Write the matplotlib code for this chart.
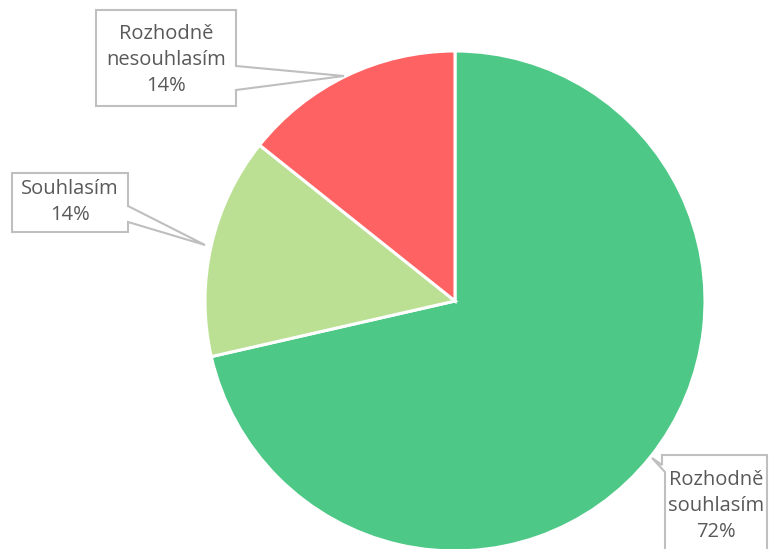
import matplotlib.pyplot as plt
from matplotlib.patches import Polygon

# data (share of answers, labels as shown in the chart)
labels = ['Rozhodně\nsouhlasím', 'Souhlasím', 'Rozhodně\nnesouhlasím']
values = [5, 1, 1]
pct = ['72%', '14%', '14%']
colors = ['#4ec886', '#bbe094', '#ff6262']

W, H = 769, 549
fig = plt.figure(figsize=(W / 100, H / 100), dpi=100)
ax = fig.add_axes([0, 0, 1, 1])

# pie drawn in pixel coords (y flipped -> counterclock=True looks clockwise)
cx, cy, r = 455, 301, 250
ax.pie(values, colors=colors, startangle=-90, counterclock=True,
       center=(cx, cy), radius=r, frame=True,
       wedgeprops=dict(edgecolor='white', linewidth=2.2))
ax.set_xlim(0, W)
ax.set_ylim(H, 0)
ax.set_aspect('equal')
ax.axis('off')

# callout boxes: box polygon with pointer
def callout(pts, text, tx, ty):
    ax.add_patch(Polygon(pts, closed=True, facecolor='white', edgecolor='#bfbfbf',
                         linewidth=1.5, zorder=5))
    ax.text(tx, ty, text, ha='center', va='center', fontsize=14.5, color='#595959',
            family='Open Sans', linespacing=1.42, zorder=6)

callout([(96, 10), (236, 10), (236, 66), (344, 76), (236, 90), (236, 106), (96, 106)],
        labels[2] + '\n' + pct[2], 166, 60)
callout([(12, 173), (128, 173), (128, 206), (205, 245), (128, 222), (128, 232), (12, 232)],
        labels[1] + '\n' + pct[1], 70, 202)
callout([(662, 455), (767, 455), (767, 560), (665, 560), (665, 472), (652, 458), (662, 465)],
        labels[0] + '\n' + pct[0], 716, 506)

fig.savefig('out.png', dpi=100)
